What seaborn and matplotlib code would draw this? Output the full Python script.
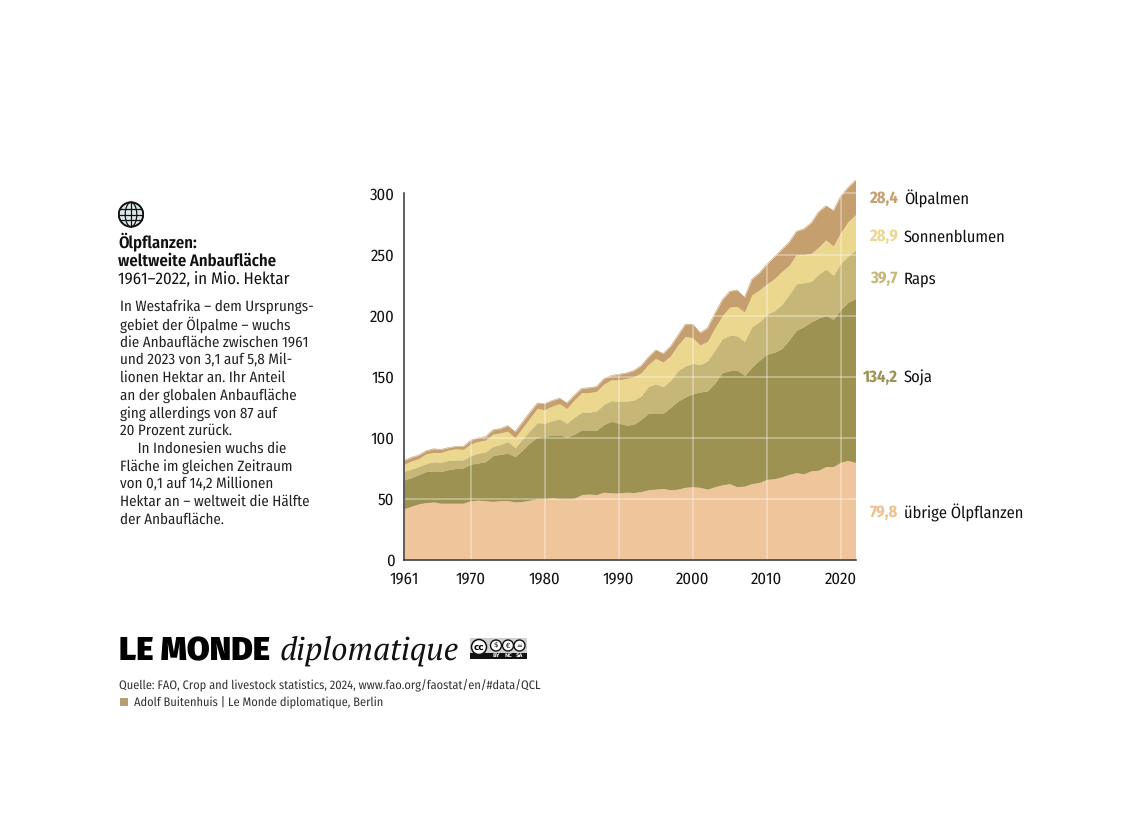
import matplotlib
matplotlib.use('Agg')
import matplotlib.pyplot as plt
from matplotlib.patches import Circle, Ellipse, Rectangle
import seaborn as sns

W, H = 1139, 827

years = list(range(1961, 2023))

# obere Kante jeder Schicht (kumuliert, Mio. Hektar)
top_uebrige = [42, 44, 46, 47, 47.5, 46.5, 46.5, 46.5, 46.5, 48.5,
               49, 48.5, 48, 48.5, 48.7, 47.5, 48, 49, 50, 50,
               51, 50.2, 50, 50.5, 53.5, 54, 53.5, 55.5, 55, 54.8,
               55.5, 55.2, 56, 57.5, 58, 58.5, 57.5, 58, 59.5, 60,
               59.5, 58, 60, 61.5, 62.5, 60, 60.5, 62.5, 63.5, 66,
               66.5, 68, 70, 71.5, 70.5, 73, 73.5, 76.5, 76.5, 80,
               81.5, 79.8]
top_soja = [65.5, 67.5, 70, 72.5, 73, 72.5, 74, 75, 75.5, 78.5,
            79.5, 80.5, 85.5, 86.5, 87.5, 84.5, 90, 96, 100.5, 101.5,
            102, 102.5, 100.5, 103, 106.5, 106.5, 106, 111, 113.5, 112,
            110.5, 111, 115, 120, 120.5, 120, 125, 130, 133.5, 136,
            137.5, 138.5, 145, 153.5, 155, 155.5, 151, 158, 163.5, 168.5,
            170, 173, 180, 188, 191, 195, 198, 200, 197, 205,
            211, 214]
top_raps = [72.5, 74.5, 76.5, 79, 80.5, 80, 81.5, 82, 82, 85.5,
            87.5, 88.5, 93, 94.5, 97, 92, 99, 106, 112.5, 112,
            114, 115.5, 112, 117, 121, 121, 122, 127.5, 130.5, 130,
            130, 131, 134, 142, 144, 142, 147, 155, 159, 161,
            160, 163, 172, 181, 184, 183.5, 179, 191, 195, 201,
            204, 209, 217, 226, 227, 228, 234, 238, 233, 243,
            249, 253.7]
top_sonne = [78.5, 81, 83, 87, 88, 88, 90, 91, 90.5, 95,
             97, 98, 103, 104, 105.5, 100, 108, 116, 124, 123,
             126, 128, 124, 131, 137, 137, 138, 144, 147.5, 147.5,
             148.5, 150, 153, 160, 165, 162, 167, 176, 183, 182,
             176, 179, 190, 200, 207, 207.5, 203, 217, 221, 226,
             230, 236, 241, 250, 250, 251, 256, 262, 257, 268,
             277, 282.6]
top_palmen = [81.5, 84, 86, 89.5, 91, 90.5, 92, 93, 93, 98,
              100, 101, 106.5, 107.5, 110, 105, 113, 121, 128.5, 128,
              130.5, 132.5, 128.5, 135, 140.5, 141, 142, 148.5, 151, 152,
              153, 155, 159, 166, 172, 169, 175, 184, 193, 193,
              186, 190, 202, 213, 220, 221, 215, 230, 235, 242,
              248, 254, 260, 269, 271, 276, 285, 290, 286, 298,
              305, 311]

names = ['übrige Ölpflanzen', 'Soja', 'Raps', 'Sonnenblumen', 'Ölpalmen']
end_values = ['79,8', '134,2', '39,7', '28,9', '28,4']
fills = ['#efc59c', '#9e9253', '#c6b677', '#ecd78e', '#c69f6e']
label_colors = ['#efc08f', '#9e9253', '#c6b677', '#ecd78e', '#c69f6e']
label_y = [512, 377, 278, 236, 198]

x_ticks = [1961, 1970, 1980, 1990, 2000, 2010, 2020]
y_ticks = [0, 50, 100, 150, 200, 250, 300]

title_bold = ['Ölpflanzen:', 'weltweite Anbaufläche']
subtitle = '1961–2022, in Mio. Hektar'
body = ['In Westafrika – dem Ursprungs-', 'gebiet der Ölpalme – wuchs',
        'die Anbaufläche zwischen 1961', 'und 2023 von 3,1 auf 5,8 Mil-',
        'lionen Hektar an. Ihr Anteil', 'an der globalen Anbaufläche',
        'ging allerdings von 87 auf', '20 Prozent zurück.',
        '     In Indonesien wuchs die', 'Fläche im gleichen Zeitraum',
        'von 0,1 auf 14,2 Millionen', 'Hektar an – weltweit die Hälfte',
        'der Anbaufläche.']
body_y = [306, 324, 342, 360, 377, 395, 413, 430, 448, 466, 484, 501, 519]

sns.set_theme(style='white')
plt.rcParams['font.family'] = ['Fira Sans Condensed', 'DejaVu Sans']
plt.rcParams['text.hinting'] = 'no_hinting'
plt.rcParams['text.hinting_factor'] = 1

fig = plt.figure(figsize=(W / 100, H / 100), dpi=100, facecolor='white')


def box(x0, y0, x1, y1):
    # Pixel im Bild -> Figure-Koordinaten
    return [x0 / W, 1 - y1 / H, (x1 - x0) / W, (y1 - y0) / H]


def txt(x, y, s, size=11, **kw):
    kw.setdefault('va', 'center')
    kw.setdefault('color', '#111111')
    fig.text(x / W, 1 - (y + 1) / H, s, fontsize=size, **kw)


ax = fig.add_axes(box(404, 178.8, 855.5, 560))
tops = [top_uebrige, top_soja, top_raps, top_sonne, top_palmen]
lower = [0] * len(years)
for name, top, col in zip(names, tops, fills):
    sns.lineplot(x=years, y=top, color=col, linewidth=0.4, ax=ax, zorder=2)
    ax.fill_between(years, lower, top, color=col, linewidth=0, zorder=2)
    lower = top

ax.set_xlim(1961, 2022)
ax.set_ylim(0, 312)
ax.set_xticks(x_ticks)
ax.set_yticks(y_ticks)
ax.tick_params(length=0, labelsize=12, labelcolor='#111111')
ax.tick_params(axis='x', pad=8)
ax.tick_params(axis='y', pad=7)
# helles Gitter nur ueber den Flaechen sichtbar
ax.grid(True, color='white', alpha=0.42, linewidth=1.1, zorder=3)
ax.set_axisbelow(False)
sns.despine(ax=ax)
ax.spines['left'].set_bounds(0, 300)
for side in ['left', 'bottom']:
    ax.spines[side].set_color('#333333')
    ax.spines[side].set_linewidth(1.1)
    ax.spines[side].set_zorder(5)

for val, name, col, y in zip(end_values, names, label_colors, label_y):
    txt(898, y, val, size=12, color=col, ha='right', fontweight='bold')
    txt(904, y, name, size=11.8)

for s, y in zip(title_bold, [241, 260]):
    txt(118, y, s, size=12, fontweight=600)
txt(118, 278, subtitle, size=12.1)
for s, y in zip(body, body_y):
    txt(120, y, s, size=10.8, color='#222222')

# Globus
globe = fig.add_axes(box(117, 201, 145, 228))
globe.set_xlim(-1.05, 1.05)
globe.set_ylim(-1.05, 1.05)
globe.set_aspect('equal')
globe.axis('off')
globe.add_patch(Circle((0, 0), 0.95, fc='#dce8ea', ec='#111111', lw=1.3))
for w in [0.9, 1.9]:
    globe.add_patch(Ellipse((0, 0), w, 1.9, fc='none', ec='#111111', lw=0.9))
globe.plot([0, 0], [-0.95, 0.95], color='#111111', lw=0.9)
for yy, half in [(0.0, 0.95), (0.45, 0.84), (-0.45, 0.84)]:
    globe.plot([-half, half], [yy, yy], color='#111111', lw=0.9)

# Logo
txt(119, 650, 'LE MONDE', size=23.8, fontweight='black', family=['Fira Sans', 'DejaVu Sans'], color='black')
txt(280, 650, 'diplomatique', size=22.8, style='italic', family=['PT Serif', 'Liberation Serif'], color='#111111')

# CC-Plakette
cc = fig.add_axes(box(470, 638, 527, 659))
cc.set_xlim(0, 57)
cc.set_ylim(21, 0)
cc.axis('off')
cc.add_patch(Rectangle((0, 0), 57, 21, fc='#cfcfcf', ec='none'))
cc.add_patch(Rectangle((0, 15), 57, 6, fc='#111111', ec='none'))
cc.add_patch(Circle((9, 9), 7.5, fc='white', ec='#111111', lw=1.1))
cc.text(9, 9, 'cc', ha='center', va='center', fontsize=6.5, fontweight='bold', color='black',
        family='DejaVu Sans')
for cx, s in [(26, r'\$'), (38, '€'), (49.5, '=')]:
    cc.add_patch(Circle((cx, 7.5), 5.5, fc='white', ec='#111111', lw=1))
    cc.text(cx, 7.5, s, ha='center', va='center', fontsize=5, color='black', family='DejaVu Sans')
for cx, s in [(26, 'BY'), (38, 'NC'), (49.5, 'SA')]:
    cc.text(cx, 18, s, ha='center', va='center', fontsize=3.5, color='white', fontweight='bold',
            family='DejaVu Sans')

# Quelle
txt(119, 685, 'Quelle: FAO, Crop and livestock statistics, 2024, www.fao.org/faostat/en/#data/QCL',
    size=8.9, color='#333333')
fig.patches.append(Rectangle((120 / W, 1 - 706 / H), 8 / W, 8 / H, fc='#b59f72', ec='none',
                             transform=fig.transFigure))
txt(134, 702, 'Adolf Buitenhuis | Le Monde diplomatique, Berlin', size=8.9, color='#333333')

fig.savefig('out.png', dpi=100)
